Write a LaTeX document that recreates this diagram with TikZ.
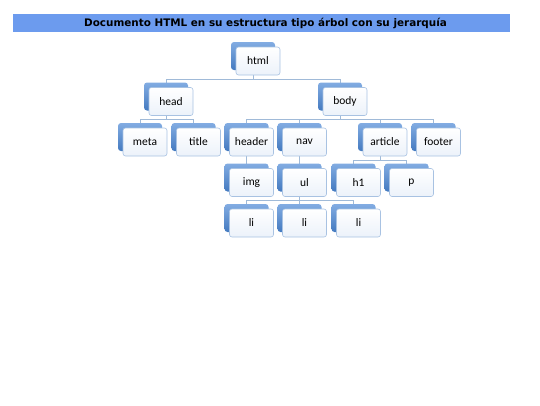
\documentclass[tikz,border=0pt]{standalone}
\usepackage{fontspec}
\setmainfont{Carlito}
\newfontfamily\titlefont{DejaVu Sans}
\usetikzlibrary{calc}
\pgfdeclarelayer{bg}
\pgfsetlayers{bg,main}
\definecolor{barblue}{RGB}{108,155,238}
\definecolor{backtop}{RGB}{130,172,226}
\definecolor{backbot}{RGB}{68,122,192}
\definecolor{frontfill}{RGB}{236,242,250}
\definecolor{frontdraw}{RGB}{168,194,226}
\definecolor{connc}{RGB}{160,186,216}
\tikzset{
  backbox/.style={rounded corners=3pt, minimum width=44pt, minimum height=28pt,
    top color=backtop, bottom color=backbot, draw=none, inner sep=0pt},
  frontbox/.style={rounded corners=2.5pt, minimum width=44pt, minimum height=28pt,
    top color=white, bottom color=frontfill, draw=frontdraw, line width=0.6pt,
    inner sep=0pt, font=\fontsize{11.5}{12}\selectfont},
  conn/.style={draw=connc, line width=0.7pt},
  titlebar/.style={fill=barblue, draw=none, minimum width=497pt, minimum height=18pt, inner sep=0pt},
  titletext/.style={inner sep=0pt, font=\titlefont\bfseries\fontsize{10.4}{12}\selectfont}
}
\newcommand\tnode[4]{%
  \node[backbox] (#1) at (#2,#3) {};
  \node[frontbox] (#1-t) at ([shift={(5,5)}]#1.center) {#4};
  \path (#1-t.south) ++(0,4) coordinate (#1-j);
}
\newcommand\tlink[2]{\draw[conn] (#1.center) -- (#1.center |- #1-j) -| (#2.center);}
\begin{document}
\begin{tikzpicture}[x=1pt,y=-1pt]
\useasboundingbox (0,0) rectangle (540,405);
\node[titlebar] (title) at (261.5,23) {};
\node[titletext] (titletxt) at (265.5,23) {Documento HTML en su estructura tipo árbol con su jerarquía};
% row 1
\tnode{html}{253}{56}{html}
% row 2
\tnode{head}{166}{96.5}{head}
\tnode{body}{340}{96.5}{body}
% row 3
\tnode{meta}{140}{137}{meta}
\tnode{ttl}{193.5}{137}{title}
\tnode{header}{246.5}{137}{header}
\tnode{nav}{299.5}{137}{nav}
\tnode{article}{380}{137}{article}
\tnode{footer}{433.5}{137}{footer}
% row 4
\tnode{img}{246.5}{177.5}{img}
\tnode{ul}{299.5}{177.5}{ul}
\tnode{hone}{353.5}{177.5}{h1}
\tnode{p}{406.5}{177.5}{p}
% row 5
\tnode{lia}{246.5}{218}{li}
\tnode{lib}{299.5}{218}{li}
\tnode{lic}{353.5}{218}{li}
\begin{pgfonlayer}{bg}
\tlink{html}{head}
\tlink{html}{body}
\tlink{head}{meta}
\tlink{head}{ttl}
\tlink{body}{header}
\tlink{body}{nav}
\tlink{body}{article}
\tlink{body}{footer}
\tlink{header}{img}
\tlink{nav}{ul}
\tlink{article}{hone}
\tlink{article}{p}
\tlink{ul}{lia}
\tlink{ul}{lib}
\tlink{ul}{lic}
\end{pgfonlayer}
\end{tikzpicture}
\end{document}
